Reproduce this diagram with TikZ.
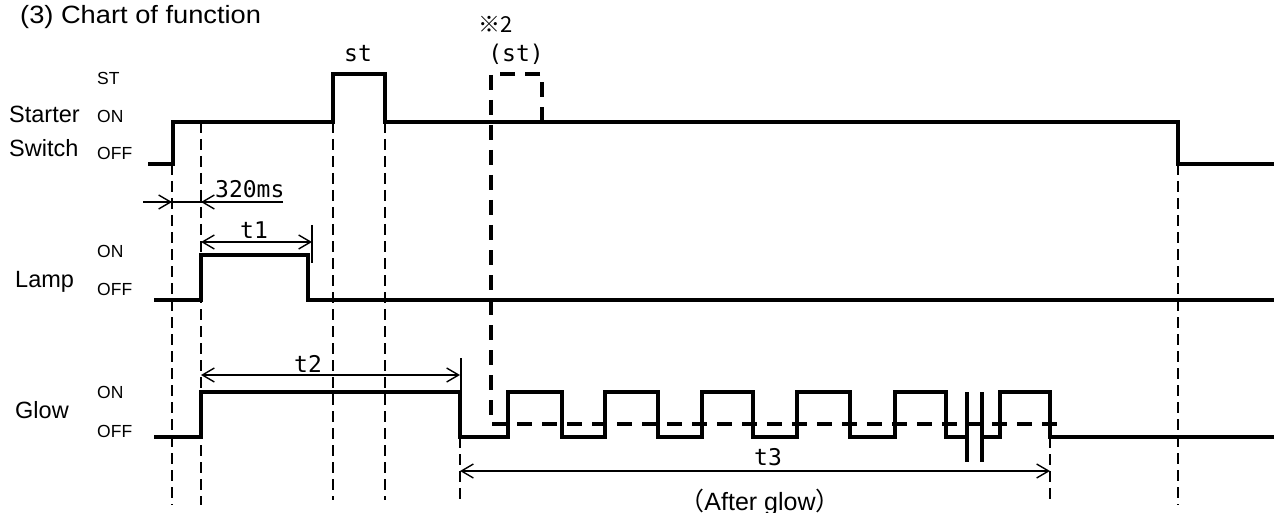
\documentclass[tikz,border=0pt]{standalone}
\usepackage{fontspec}
\setmainfont{Liberation Sans}
\newfontfamily\titlefam[FakeStretch=1.09]{Liberation Sans}
\newfontfamily\monofont{DejaVu Sans Mono}
\newfontfamily\cjkfont{Noto Sans CJK JP}
\usetikzlibrary{arrows.meta}
\begin{document}
\begin{tikzpicture}[x=1pt,y=-1pt,
  titlefont/.style={font=\titlefam\fontsize{25}{28}\selectfont, inner sep=0, anchor=base west},
  lbl/.style={font=\fontsize{23.5}{26}\selectfont, inner sep=0, anchor=base west},
  lvl/.style={font=\fontsize{17.5}{20}\selectfont, inner sep=0, anchor=base west},
  mono/.style={font=\monofont\fontsize{23}{25}\selectfont, inner sep=0, anchor=base},
  wave/.style={line width=3.6pt, line join=miter},
  altwave/.style={line width=3.6pt, dash pattern=on 15pt off 10pt},
  guide/.style={line width=2.4pt, dash pattern=on 11pt off 6pt},
  dimline/.style={line width=1.4pt},
  tip/.tip={Straight Barb[length=12pt,width=14pt,line width=1.4pt]},
]
\useasboundingbox (0,0) rectangle (1274,513);

% ---- texts
\node[titlefont] (title) at (20,24) {(3) Chart of function};
\node[lbl] (starter) at (9,123) {Starter};
\node[lbl] (switch) at (9,157) {Switch};
\node[lvl] (sST) at (97,85) {ST};
\node[lvl] (sON) at (97,123) {ON};
\node[lvl] (sOFF) at (97,160) {OFF};
\node[lbl] (lamp) at (15,287) {Lamp};
\node[lvl] (lON) at (97,258) {ON};
\node[lvl] (lOFF) at (97,295) {OFF};
\node[lbl] (glow) at (15,418) {Glow};
\node[lvl] (gON) at (97,398) {ON};
\node[lvl] (gOFF) at (97,437) {OFF};

\node[mono] (st) at (358,62) {st};
\node[mono] (stalt) at (516,62) {(st)};
\node[font=\cjkfont\fontsize{22}{24}\selectfont, inner sep=0, anchor=base west] (note) at (478,33) {※2};
\node[mono, anchor=base west] (ms) at (215,197) {320ms};
\node[mono] (t1) at (254,238) {t1};
\node[mono] (t2) at (308,372) {t2};
\node[mono] (t3) at (768,465) {t3};
\node[font=\fontsize{25}{28}\selectfont, inner sep=0, anchor=base] (after) at (760,510) {{\cjkfont （}After glow{\cjkfont ）}};

% ---- guide lines
\draw[guide] (172,164) -- (172,505);
\draw[guide] (201,122) -- (201,505);
\draw[guide] (333,122) -- (333,500);
\draw[guide] (385,122) -- (385,500);
\draw[guide] (460,437) -- (460,505);
\draw[guide] (1050,437) -- (1050,505);
\draw[guide] (1178,164) -- (1178,505);

% ---- waveforms
\draw[wave] (148,164) -- (173,164) -- (173,122) -- (333,122) -- (333,74) -- (385,74)
  -- (385,122) -- (1178,122) -- (1178,164) -- (1274,164);
\draw[wave] (154,300) -- (201,300) -- (201,255) -- (308,255) -- (308,300) -- (1274,300);
\draw[wave] (154,437) -- (201,437) -- (201,392) -- (460,392) -- (460,437)
  -- (508,437) -- (508,392) -- (562,392) -- (562,437)
  -- (605,437) -- (605,392) -- (658,392) -- (658,437)
  -- (702,437) -- (702,392) -- (753,392) -- (753,437)
  -- (797,437) -- (797,392) -- (850,392) -- (850,437)
  -- (895,437) -- (895,392) -- (946,392) -- (946,437) -- (967,437);
\draw[wave] (982,437) -- (1000,437) -- (1000,392) -- (1050,392) -- (1050,437) -- (1274,437);
\draw[wave] (967,392) -- (967,462);
\draw[wave] (982,392) -- (982,462);
\draw[altwave] (542,122) -- (542,74) -- (491,74) -- (491,424) -- (1059,424);

% ---- dimensions
\coordinate (m0) at (143,202); \coordinate (m1) at (172,202);
\coordinate (m2) at (201,202); \coordinate (m3) at (283,202);
\draw[dimline] (m0) -- (m3);
\draw[dimline, -tip] (m0) -- (m1);
\draw[dimline, -tip] (m3) -- (m2);

\coordinate (a1) at (201,242); \coordinate (b1) at (312,242);
\draw[dimline, tip-tip] (a1) -- (b1);
\draw[dimline] (312,225) -- (312,263);

\coordinate (a2) at (201,375); \coordinate (b2) at (460,375);
\draw[dimline, tip-tip] (a2) -- (b2);
\draw[dimline] (461,358) -- (461,392);

\coordinate (a3) at (460,471); \coordinate (b3) at (1050,471);
\draw[dimline, tip-tip] (a3) -- (b3);
\end{tikzpicture}
\end{document}
